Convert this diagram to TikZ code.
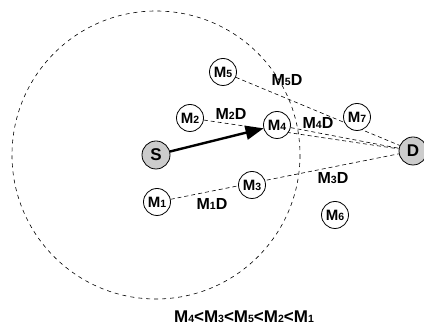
\documentclass[tikz,border=0pt]{standalone}
\usepackage{fontspec}
\setmainfont{Liberation Sans}
\usetikzlibrary{arrows.meta,backgrounds}
% node name: capital M with a smaller index digit
\newcommand\mname[1]{M{\fontsize{10.5}{10.5}\selectfont #1}}
\begin{document}
\begin{tikzpicture}[x=1pt,y=-1pt,
  mnode/.style={circle,draw,line width=0.8pt,fill=white,minimum size=27pt,
    inner sep=0pt,font=\bfseries\fontsize{15}{15}\selectfont},
  endnode/.style={mnode,fill=gray!40,minimum size=28pt,font=\bfseries\fontsize{17}{17}\selectfont},
  link/.style={dash pattern=on 4pt off 3pt,line width=0.6pt},
  radiorange/.style={dash pattern=on 4pt off 4pt,line width=0.6pt},
  lab/.style={inner sep=0pt,font=\bfseries\fontsize{16}{16}\selectfont}]
\useasboundingbox (0,0) rectangle (424,328);

% hosts
\node[endnode] (S) at (156,155) {S};
\node[endnode] (D) at (413,151) {D};
\node[mnode] (M1) at (157,202) {\mname{1}};
\node[mnode] (M2) at (190,118) {\mname{2}};
\node[mnode] (M3) at (252,185) {\mname{3}};
\node[mnode] (M4) at (277,125) {\mname{4}};
\node[mnode] (M5) at (223,72) {\mname{5}};
\node[mnode] (M6) at (335,215) {\mname{6}};
\node[mnode] (M7) at (357,117) {\mname{7}};

% transmission range of S and the distances to D
\begin{scope}[on background layer]
  \draw[radiorange] (S.center) circle[radius=144];
  \draw[link] (M5) -- (D);
  \draw[link] (M2) -- (D);
  \draw[link] (M4) -- (D);
  \draw[link] (M1) -- (D);
\end{scope}

% chosen next hop
\draw[line width=2.4pt,-{Triangle[length=18pt,width=14pt]}] (S) -- (M4);

% distance labels
\node[lab] (l5) at (287,80) {\mname{5}D};
\node[lab] (l2) at (231,114) {\mname{2}D};
\node[lab] (l4) at (318,123) {\mname{4}D};
\node[lab] (l3) at (333,178) {\mname{3}D};
\node[lab] (l1) at (212,204) {\mname{1}D};

% ordering
\node[lab,font=\bfseries\fontsize{17}{17}\selectfont] (order) at (244,317) {\mname{4}<\mname{3}<\mname{5}<\mname{2}<\mname{1}};
\end{tikzpicture}
\end{document}
